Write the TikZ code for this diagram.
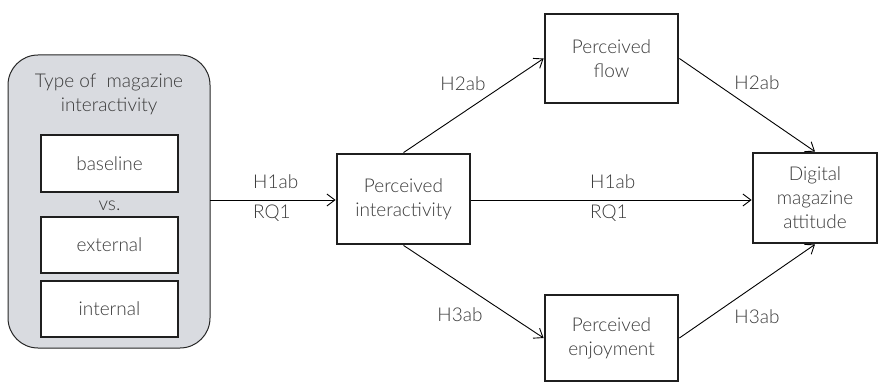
\documentclass[tikz,border=0pt]{standalone}
\usepackage{fontspec}
\IfFontExistsTF{Lato Light}{\setmainfont{Lato Light}}{\setmainfont{Lato}}
\usetikzlibrary{arrows.meta}
\definecolor{txt}{HTML}{3A3A3A}
\definecolor{panel}{HTML}{D9DBE0}
\begin{document}
\begin{tikzpicture}[x=1pt,y=-1pt,
  every node/.style={font=\fontsize{19}{24}\selectfont, text=txt, align=center, inner sep=0pt},
  box/.style={draw=black!88, line width=2.8pt, fill=white, minimum width=133pt, minimum height=89pt},
  sub/.style={draw=black!88, line width=2.8pt, fill=white, minimum width=137pt, minimum height=56pt},
  conn/.style={line width=0.9pt, -{Straight Barb[length=8pt,width=12pt,line width=0.9pt]}},
  lbl/.style={anchor=center}
]
\useasboundingbox (0,0) rectangle (880,382);
\node[draw=black!85, line width=1pt, fill=panel, rounded corners=30pt, minimum width=202pt, minimum height=293pt] (panel) at (109,201.5) {};
\node (title) at (109,94) {Type of\hspace{0.55em}magazine\\interactivity};
\node[sub, minimum height=57pt] (base) at (109.5,163.5) {baseline};
\node (vs) at (109.5,206) {vs.};
\node[sub] (ext) at (109.5,245) {external};
\node[sub] (int) at (109.5,309) {internal};

\node[box, minimum height=90pt] (inter) at (403.5,199) {Perceived\\interactivity};
\node[box] (flow) at (611.5,58.5) {Perceived\\flow};
\node[box, minimum height=86pt] (enj) at (611.5,338) {Perceived\\enjoyment};
\node[box, minimum width=124pt, minimum height=90pt] (dig) at (815,198) {Digital\\magazine\\attitude};

\coordinate (s1) at (210,200);
\draw[conn] (s1) -- (inter.west |- s1);
\draw[conn] (inter.north) -- (flow.west);
\draw[conn] (inter.south) -- (enj.west);
\draw[conn] (inter.east |- s1) -- (dig.west |- s1);
\draw[conn] (flow.east) -- (dig.north);
\draw[conn] (enj.east) -- (dig.south);

\node[anchor=west] (l1) at (253,182) {H1ab};
\node[anchor=west] (l2) at (253,213) {RQ1};
\node[anchor=west] (l3) at (590,182) {H1ab};
\node[anchor=west] (l4) at (590,213) {RQ1};
\node (l5) at (463,84) {H2ab};
\node (l6) at (757,83) {H2ab};
\node (l7) at (460,315) {H3ab};
\node (l8) at (757,317) {H3ab};
\end{tikzpicture}
\end{document}
